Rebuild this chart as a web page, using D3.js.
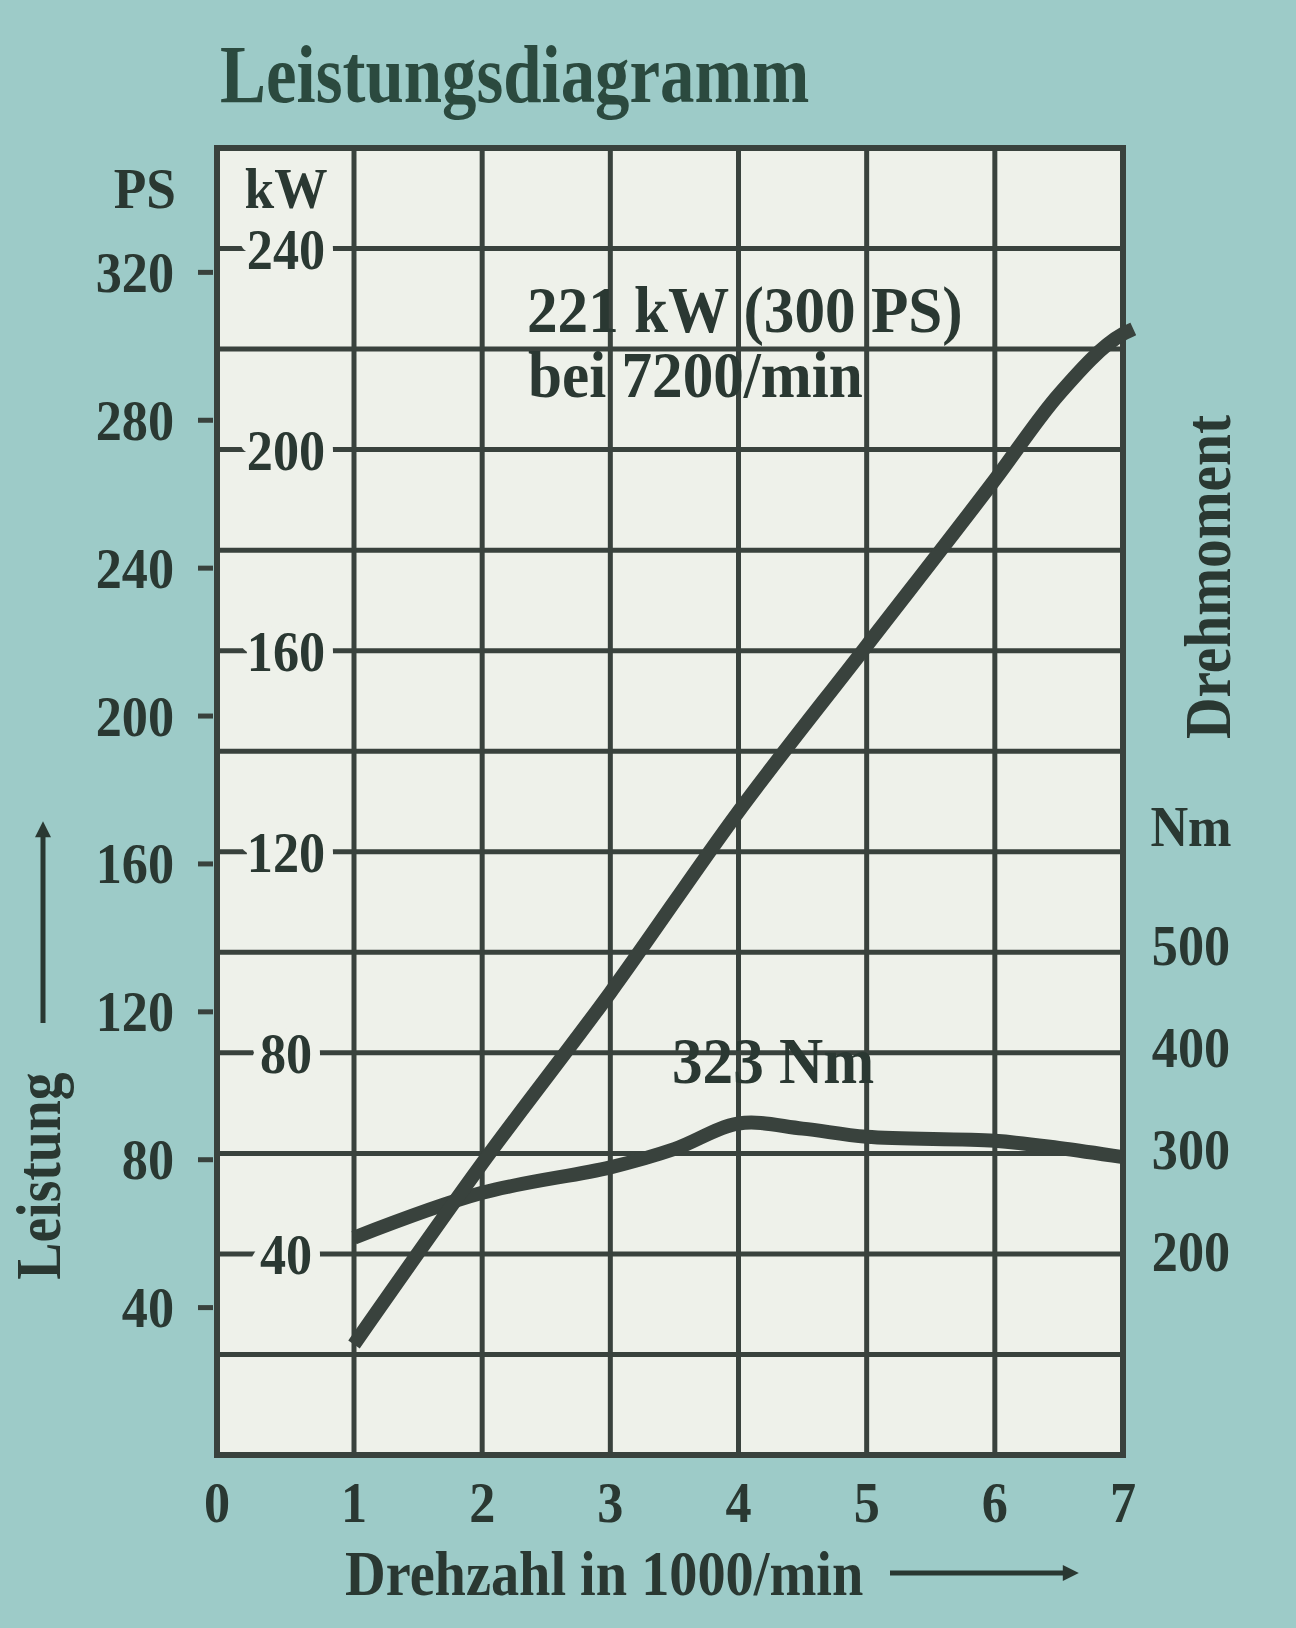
<!DOCTYPE html>
<html>
<head>
<meta charset="utf-8">
<script src="https://cdn.jsdelivr.net/npm/d3@7"></script>
<style>
  html, body { margin: 0; padding: 0; background: #9dcbc8; }
  svg { display: block; }
</style>
</head>
<body>
<div id="chart"></div>
<script>
'use strict';

// Drehzahl (1000/min) und Leistung (kW)
var powerRpm = [1, 2, 3, 4, 5, 6, 6.5, 7, 7.08];
var powerKw = [22, 58, 92, 128, 161, 194, 211, 223, 224];

// Drehzahl (1000/min) und Drehmoment (Nm)
var torqueRpm = [1, 2, 3, 3.5, 4, 4.5, 5, 6, 6.5, 7];
var torqueNm = [213, 257, 282, 300, 325, 320, 312, 308, 301, 292];

var rpmTicks = [0, 1, 2, 3, 4, 5, 6, 7];
var kwTicks = [40, 80, 120, 160, 200, 240];
var kwGrid = [20, 40, 60, 80, 100, 120, 140, 160, 180, 200, 220, 240];
var psTicks = [40, 80, 120, 160, 200, 240, 280, 320];
var nmTicks = [200, 300, 400, 500];

var drawChart = function () {
    var width = 1296;
    var height = 1628;
    var ink = "#2a3832";
    var lineInk = "#39423d";
    var paper = "#eef1ea";
    var font = "'Liberation Serif', 'Times New Roman', serif";

    var svg = d3.select("#chart")
        .append("svg")
        .attr("width", width)
        .attr("height", height);

    svg.append("rect")
        .attr("width", width)
        .attr("height", height)
        .style("fill", "#9dcbc8");

    var x = d3.scaleLinear().domain([0, 1, 7]).range([217, 354, 1123]);
    var yKw = d3.scaleLinear().domain([0, 260]).range([1455, 148]);
    var yPs = d3.scaleLinear().domain([0, 260 / 0.7355]).range([1455, 148]);
    var yNm = d3.scaleLinear().domain([0, 500]).range([1455, 945]);

    var left = x(0), right = x(7), top = yKw(260), bottom = yKw(0);

    // condensed bold serif text, like the printed figure
    var label = function (parent, str, px, py, size, anchor, sx, rotate, sy) {
        var t = parent.append("text")
            .text(str)
            .attr("transform", "translate(" + px + "," + py + ")" +
                (rotate ? " rotate(" + rotate + ")" : "") +
                " scale(" + sx + "," + (sy || 1) + ")")
            .style("font-family", font)
            .style("font-weight", "bold")
            .style("font-size", size + "px")
            .style("text-anchor", anchor)
            .style("fill", ink);
        return t;
    };

    // plot paper
    svg.append("rect")
        .attr("x", left).attr("y", top)
        .attr("width", right - left).attr("height", bottom - top)
        .style("fill", paper);

    // grid
    svg.selectAll("line.hgrid")
        .data(kwGrid)
        .enter()
        .append("line")
        .attr("class", "hgrid")
        .attr("x1", left).attr("x2", right)
        .attr("y1", yKw).attr("y2", yKw)
        .style("stroke", lineInk)
        .style("stroke-width", 5);

    svg.selectAll("line.vgrid")
        .data(rpmTicks.slice(1, 7))
        .enter()
        .append("line")
        .attr("class", "vgrid")
        .attr("x1", x).attr("x2", x)
        .attr("y1", top).attr("y2", bottom)
        .style("stroke", lineInk)
        .style("stroke-width", 5);

    svg.append("rect")
        .attr("x", left).attr("y", top)
        .attr("width", right - left).attr("height", bottom - top)
        .style("fill", "none")
        .style("stroke", lineInk)
        .style("stroke-width", 6);

    // kW labels inside the first column, knocked out of the grid line
    kwTicks.forEach(function (d) {
        label(svg, d, 286, yKw(d) + 20, 58, "middle", 0.9)
            .style("stroke", paper)
            .style("stroke-width", 22)
            .style("stroke-linejoin", "round")
            .style("paint-order", "stroke");
    });
    label(svg, "kW", 286, 208, 58, "middle", 0.92);

    // PS axis on the teal margin
    var psAxis = d3.axisLeft(yPs).tickValues(psTicks).tickSize(15).tickSizeOuter(0);
    var psG = svg.append("g")
        .attr("transform", "translate(213,0)")
        .call(psAxis);
    psG.select(".domain").remove();
    psG.selectAll(".tick line").style("stroke", lineInk).style("stroke-width", 5);
    psG.selectAll(".tick text").remove();
    psTicks.forEach(function (d) {
        label(svg, d, 174, yPs(d) + 20, 58, "end", 0.9);
    });
    label(svg, "PS", 176, 208, 58, "end", 0.92);

    // x axis labels
    var xAxis = d3.axisBottom(x).tickValues(rpmTicks).tickSize(0);
    var xG = svg.append("g")
        .attr("transform", "translate(0," + bottom + ")")
        .call(xAxis);
    xG.select(".domain").remove();
    xG.selectAll(".tick text").remove();
    rpmTicks.forEach(function (d) {
        label(svg, d, x(d), 1522, 58, "middle", 0.9);
    });

    // Nm axis labels on the right margin
    nmTicks.forEach(function (d) {
        label(svg, d, 1191, yNm(d) + 20, 58, "middle", 0.9);
    });
    label(svg, "Nm", 1191, 846, 58, "middle", 0.9);
    label(svg, "Drehmoment", 1230, 577, 66, "middle", 0.87, -90);

    // axis titles with arrows
    var defs = svg.append("defs");
    defs.append("marker")
        .attr("id", "arrow")
        .attr("viewBox", "0 0 10 10")
        .attr("refX", 2).attr("refY", 5)
        .attr("markerWidth", 4.5).attr("markerHeight", 3.2)
        .attr("orient", "auto")
        .append("path")
        .attr("d", "M0,0L10,5L0,10z")
        .style("fill", ink);

    label(svg, "Drehzahl in 1000/min", 345, 1595, 64, "start", 0.88);
    svg.append("line")
        .attr("x1", 890).attr("y1", 1573)
        .attr("x2", 1066).attr("y2", 1573)
        .style("stroke", ink)
        .style("stroke-width", 5)
        .attr("marker-end", "url(#arrow)");

    label(svg, "Leistung", 60, 1176, 64, "middle", 0.87, -90);
    svg.append("line")
        .attr("x1", 43).attr("y1", 1023)
        .attr("x2", 43).attr("y2", 834)
        .style("stroke", ink)
        .style("stroke-width", 5)
        .attr("marker-end", "url(#arrow)");

    // curves
    var powerLine = d3.line()
        .x(function (d) { return x(d[0]); })
        .y(function (d) { return yKw(d[1]); })
        .curve(d3.curveMonotoneX);

    var torqueLine = d3.line()
        .x(function (d) { return x(d[0]); })
        .y(function (d) { return yNm(d[1]); })
        .curve(d3.curveCatmullRom.alpha(0.5));

    svg.append("path")
        .datum(d3.zip(torqueRpm, torqueNm))
        .attr("d", torqueLine)
        .style("fill", "none")
        .style("stroke", lineInk)
        .style("stroke-width", 14);

    svg.append("path")
        .datum(d3.zip(powerRpm, powerKw))
        .attr("d", powerLine)
        .style("fill", "none")
        .style("stroke", lineInk)
        .style("stroke-width", 14);

    // annotations (slightly smaller glyph box, stretched to the printed height)
    label(svg, "221 kW (300 PS)", 527, 332, 60, "start", 1.02, 0, 1.1);
    label(svg, "bei 7200/min", 528, 397, 60, "start", 1.02, 0, 1.1);
    label(svg, "323 Nm", 672, 1083, 60, "start", 1.02, 0, 1.1);

    // title
    label(svg, "Leistungsdiagramm", 220, 102, 82, "start", 0.84)
        .style("fill", "#2b4a3f");
};

drawChart();
</script>
</body>
</html>
